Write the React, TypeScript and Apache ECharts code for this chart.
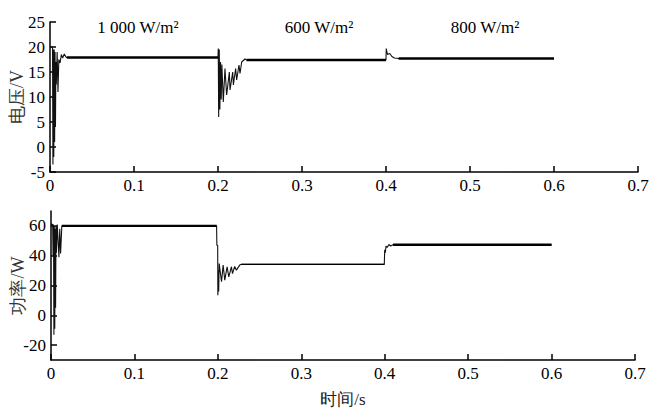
import React, { useEffect, useRef } from "react";
import * as echarts from "echarts";

// ---- Data (time in s) ----
const timeTicks = [0, 0.1, 0.2, 0.3, 0.4, 0.5, 0.6, 0.7];
const powerTickValues = [-20, 0, 20, 40, 60];
const irradianceLabels = ["1 000 W/m²", "600 W/m²", "800 W/m²"];

// Voltage (V)
const voltStartup: [number, number][] = [
  [0, 20], [0.003, 20], [0.0035, -3.5], [0.004, 19.5], [0.0045, -2], [0.005, 19.5],
  [0.0055, 1], [0.006, 19], [0.0065, 4], [0.007, 17], [0.0075, 12.5], [0.0085, 19],
  [0.0095, 11], [0.0105, 17.5], [0.012, 16.8], [0.0135, 18.5], [0.015, 17.8],
  [0.017, 18.6], [0.019, 18.0], [0.02, 17.9],
];
const voltDrop600: [number, number][] = [
  [0.2, 17.9], [0.2003, 19.7], [0.2008, 6.0], [0.2015, 19.5], [0.2022, 7.5], [0.203, 17],
  [0.2038, 9.5], [0.2046, 16.5], [0.2063, 9.0], [0.2083, 15.7], [0.2103, 10.4],
  [0.2135, 15.0], [0.2143, 11.4], [0.2175, 15.0], [0.2183, 12.4], [0.221, 15.7],
  [0.2222, 13.4], [0.225, 16.4], [0.2262, 14.7], [0.2282, 17.0], [0.2321, 17.6], [0.234, 17.4],
];
const voltRise800: [number, number][] = [
  [0.4, 17.4], [0.4003, 19.7], [0.401, 19.0], [0.402, 18.5], [0.4045, 18.7],
  [0.407, 18.1], [0.41, 17.8], [0.415, 17.7],
];
const voltEnd: [number, number] = [0.6, 17.7];
const voltSteady: [number, number][][] = [
  [[0.02, 17.9], [0.2, 17.9]],
  [[0.234, 17.4], [0.4, 17.4]],
  [[0.415, 17.7], [0.6, 17.7]],
];

// Power (W)
const powerStartup: [number, number][] = [
  [0, 61], [0.002, 61], [0.0025, 40], [0.003, 61], [0.0035, -13], [0.004, 60],
  [0.0045, -9], [0.005, 58], [0.0055, 5], [0.006, 60], [0.0065, 42], [0.0075, 61],
  [0.0095, 39], [0.0105, 58], [0.0115, 41.5], [0.013, 60],
];
const powerDrop600: [number, number][] = [
  [0.1985, 60], [0.1988, 47], [0.1998, 47], [0.2, 13.5], [0.2006, 30], [0.201, 16],
  [0.2016, 34.8], [0.2044, 22.5], [0.2063, 33.7], [0.2083, 23.6], [0.2111, 32.6],
  [0.2131, 25.8], [0.2163, 32.6], [0.2175, 28], [0.2202, 32.8], [0.2222, 30.3],
  [0.2262, 33.7], [0.2282, 34.2],
];
const powerRise800: [number, number][] = [
  [0.3995, 34.2], [0.4, 44], [0.4008, 42], [0.4015, 46.5], [0.403, 45.5],
  [0.405, 47.5], [0.407, 46.5], [0.41, 47.3],
];
const powerEnd: [number, number] = [0.6, 47.3];
const powerSteady: [number, number][][] = [
  [[0.013, 60], [0.1985, 60]],
  [[0.2282, 34.2], [0.3995, 34.2]],
  [[0.41, 47.3], [0.6, 47.3]],
];
const powerSteadyWidths = [2.4, 1.4, 2.4];

const serif = "Liberation Serif";

function xAxisCfg(gridIndex: number, withName: boolean) {
  return {
    type: "value",
    gridIndex,
    min: timeTicks[0],
    max: timeTicks[timeTicks.length - 1],
    interval: 0.1,
    name: withName ? "时间/s" : "",
    nameLocation: "middle",
    nameGap: 31,
    nameMoveOverlap: false,
    nameTextStyle: { fontFamily: serif, fontSize: 17, color: "#222" },
    axisLine: { onZero: false, lineStyle: { color: "#000", width: 1.5 } },
    axisTick: { inside: true, length: 6, lineStyle: { color: "#000", width: 1.5 } },
    axisLabel: {
      color: "#000",
      fontFamily: serif,
      fontSize: 17,
      margin: 5,
      formatter: (v: number) => (Math.abs(v) < 1e-9 ? "0" : v.toFixed(1)),
    },
    splitLine: { show: false },
  };
}

const lineBase = {
  type: "line",
  showSymbol: false,
  symbol: "none",
  silent: true,
};

export default function App() {
  const ref = useRef<HTMLDivElement>(null);
  useEffect(() => {
    document.body.style.margin = "0";
    const chart = echarts.init(ref.current!, null, { renderer: "svg" });
    const voltFull = [...voltStartup, ...voltDrop600, ...voltRise800, voltEnd];
    const powerFull = [...powerStartup, ...powerDrop600, ...powerRise800, powerEnd];
    const series: any[] = [
      {
        ...lineBase,
        xAxisIndex: 0,
        yAxisIndex: 0,
        data: voltFull,
        lineStyle: { color: "#111", width: 1.1 },
      },
      ...voltSteady.map((seg) => ({
        ...lineBase,
        xAxisIndex: 0,
        yAxisIndex: 0,
        data: seg,
        lineStyle: { color: "#000", width: 2.4 },
      })),
      {
        ...lineBase,
        xAxisIndex: 1,
        yAxisIndex: 1,
        data: powerFull,
        lineStyle: { color: "#111", width: 1.1 },
      },
      ...powerSteady.map((seg, i) => ({
        ...lineBase,
        xAxisIndex: 1,
        yAxisIndex: 1,
        data: seg,
        lineStyle: { color: "#000", width: powerSteadyWidths[i] },
      })),
    ];
    const yName = {
      nameLocation: "middle",
      nameGap: 24,
      nameMoveOverlap: false,
      nameTextStyle: { fontFamily: serif, fontSize: 18, color: "#333" },
    };
    const option: any = {
      animation: false,
      backgroundColor: "#fff",
      grid: [
        { left: 50, top: 22, width: 588, height: 150, containLabel: false, outerBoundsMode: "none" },
        { left: 51, top: 211, width: 584, height: 149, containLabel: false, outerBoundsMode: "none" },
      ],
      xAxis: [xAxisCfg(0, false), xAxisCfg(1, true)],
      yAxis: [
        {
          type: "value",
          gridIndex: 0,
          min: -5,
          max: 25,
          interval: 5,
          name: "电压/V",
          ...yName,
          axisLine: { onZero: false, lineStyle: { color: "#000", width: 1.5 } },
          axisTick: { inside: true, length: 6, lineStyle: { color: "#000", width: 1.5 } },
          axisLabel: { color: "#000", fontFamily: serif, fontSize: 17, margin: 5 },
          splitLine: { show: false },
        },
        {
          type: "value",
          gridIndex: 1,
          min: -30,
          max: 70,
          name: "功率/W",
          ...yName,
          axisLine: { onZero: false, lineStyle: { color: "#000", width: 1.5 } },
          axisTick: {
            inside: true,
            length: 6,
            customValues: powerTickValues,
            lineStyle: { color: "#000", width: 1.5 },
          },
          axisLabel: {
            color: "#000",
            fontFamily: serif,
            fontSize: 17,
            margin: 5,
            customValues: powerTickValues,
          },
          splitLine: { show: false },
        },
      ],
      graphic: irradianceLabels.map((t, i) => ({
        type: "text",
        x: [138, 319, 485][i],
        y: 27,
        style: { text: t, fontFamily: serif, fontSize: 17, fill: "#000", align: "center", verticalAlign: "middle" },
      })),
      series,
    };
    chart.setOption(option);
    return () => chart.dispose();
  }, []);
  return <div ref={ref} style={{ width: 652, height: 410 }} />;
}
